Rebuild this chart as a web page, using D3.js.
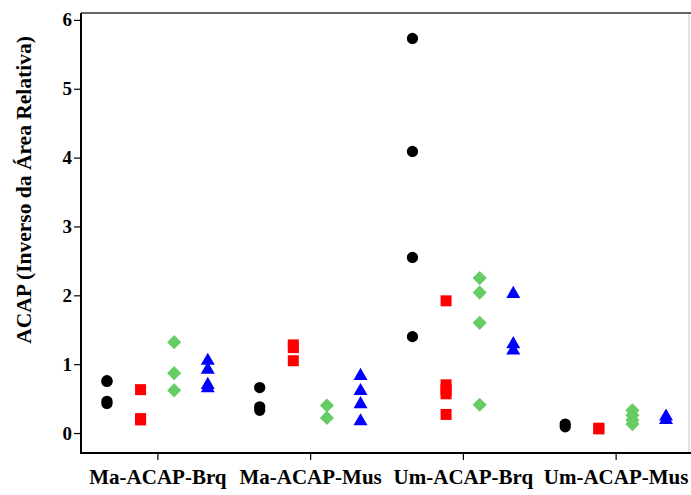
<!DOCTYPE html>
<html>
<head>
<meta charset="utf-8">
<script src="https://cdn.jsdelivr.net/npm/d3@7"></script>
<style>
  body { margin: 0; background: #fff; }
  svg { display: block; }
  text { font-family: "Liberation Serif", "Times New Roman", serif; font-weight: bold; }
</style>
</head>
<body>
<script>
var categories = ["Ma-ACAP-Brq", "Ma-ACAP-Mus", "Um-ACAP-Brq", "Um-ACAP-Mus"];
var yTicks = [0, 1, 2, 3, 4, 5, 6];
var yTitle = "ACAP (Inverso da Área Relativa)";

// one list of values per category, for each series
var blackValues = [
    [0.75, 0.76, 0.43, 0.46],
    [0.66, 0.33, 0.38],
    [5.73, 4.09, 2.55, 1.40],
    [0.09, 0.13]
];
var redValues = [
    [0.63, 0.21, 0.19],
    [1.28, 1.24, 1.05],
    [1.92, 0.70, 0.63, 0.57, 0.27],
    [0.06, 0.07]
];
var greenValues = [
    [1.32, 0.87, 0.62],
    [0.40, 0.22],
    [2.25, 2.04, 1.60, 0.41],
    [0.33, 0.26, 0.19, 0.13]
];
var blueValues = [
    [1.05, 0.92, 0.70, 0.65],
    [0.83, 0.61, 0.42, 0.17],
    [2.02, 1.29, 1.20],
    [0.24, 0.19]
];

var series = [
    { values: blackValues, offset: -0.33, color: "#000000", type: "circle" },
    { values: redValues, offset: -0.11, color: "#ff0000", type: "square" },
    { values: greenValues, offset: 0.11, color: "#66cc66", type: "diamond" },
    { values: blueValues, offset: 0.33, color: "#0000ff", type: "triangle" }
];

var width = 691, height = 495;
var mLeft = 81, mRight = 690, mTop = 13, mBottom = 453;

var svg = d3.select("body").append("svg")
    .attr("width", width)
    .attr("height", height);

var x = d3.scaleLinear().domain([0.5, 4.5]).range([mLeft, 692]);
var y = d3.scaleLinear().domain([-0.29, 6.1]).range([mBottom, mTop]);

// frame: light right side, dark top
svg.append("line")
    .attr("x1", mRight - 1).attr("x2", mRight - 1)
    .attr("y1", mTop).attr("y2", mBottom)
    .attr("stroke", "#c8c8c8").attr("stroke-width", 1);
svg.append("line")
    .attr("x1", mLeft).attr("x2", width)
    .attr("y1", mTop).attr("y2", mTop)
    .attr("stroke", "#333").attr("stroke-width", 1.5);

var yAxis = d3.axisLeft(y).tickValues(yTicks).tickSize(7).tickPadding(2).tickFormat(d3.format("d"));
var gy = svg.append("g").attr("transform", "translate(" + mLeft + ",0)").call(yAxis);
gy.select(".domain").remove();
gy.selectAll("line").attr("stroke", "#000").attr("stroke-width", 1.2);
gy.selectAll("text").attr("font-size", 19).attr("fill", "#000");

var xAxis = d3.axisBottom(x).tickValues([1, 2, 3, 4]).tickSize(7).tickPadding(9)
    .tickFormat(function (d) { return categories[d - 1]; });
var gx = svg.append("g").attr("transform", "translate(0," + mBottom + ")").call(xAxis);
gx.select(".domain").remove();
gx.selectAll("line").attr("stroke", "#000").attr("stroke-width", 1.2);
gx.selectAll("text").attr("font-size", 21).attr("fill", "#000");

svg.append("line")
    .attr("x1", mLeft).attr("x2", mLeft)
    .attr("y1", mTop).attr("y2", mBottom + 1)
    .attr("stroke", "#000").attr("stroke-width", 2);
svg.append("line")
    .attr("x1", mLeft).attr("x2", width)
    .attr("y1", mBottom).attr("y2", mBottom)
    .attr("stroke", "#000").attr("stroke-width", 2);

svg.append("text")
    .attr("transform", "translate(31,190) rotate(-90)")
    .attr("text-anchor", "middle")
    .attr("font-size", 21.5)
    .text(yTitle);

var shapes = {
    circle: d3.symbol().type(d3.symbolCircle).size(100),
    square: d3.symbol().type(d3.symbolSquare).size(121),
    diamond: d3.symbol().type(d3.symbolSquare).size(100),
    triangle: d3.symbol().type(d3.symbolTriangle).size(85)
};

series.forEach(function (s) {
    var pts = [];
    s.values.forEach(function (vals, i) {
        vals.forEach(function (v) { pts.push([i + 1 + s.offset, v]); });
    });
    svg.append("g").selectAll("path")
        .data(pts)
        .join("path")
        .attr("d", shapes[s.type])
        .attr("fill", s.color)
        .attr("transform", function (d) {
            var t = "translate(" + x(d[0]) + "," + y(d[1]) + ")";
            return s.type === "diamond" ? t + " rotate(45)" : t;
        });
});
</script>
</body>
</html>
